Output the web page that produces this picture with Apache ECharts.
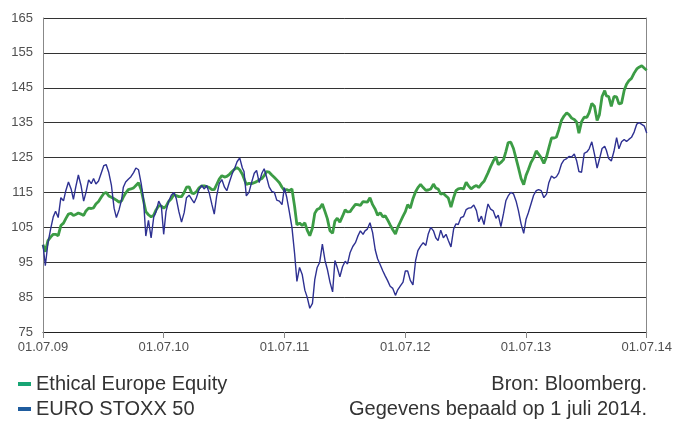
<!DOCTYPE html>
<html>
<head>
	<meta charset="UTF-8">
	<title>Ethical Europe Equity vs EURO STOXX 50</title>
	<style type="text/css">
		html, body {
			margin: 0;
			padding: 0;
			background: #fff;
		}
		#chart {
			width: 675px;
			height: 421px;
		}
	</style>
</head>
<body>
	<div id="chart"></div>

	<script type="text/javascript" src="https://cdn.jsdelivr.net/npm/echarts@6/dist/echarts.min.js"></script>
	<script type="text/javascript">
		// readings about four times a month, 01.07.09 - 01.07.14
		var dates = [
			'2009-07-01','2009-07-08','2009-07-16','2009-07-24','2009-08-01','2009-08-08','2009-08-16','2009-08-24','2009-09-01','2009-09-08','2009-09-16','2009-09-24',
			'2009-10-01','2009-10-08','2009-10-16','2009-10-24','2009-11-01','2009-11-08','2009-11-16','2009-11-24','2009-12-01','2009-12-08','2009-12-16','2009-12-24',
			'2010-01-01','2010-01-08','2010-01-16','2010-01-24','2010-02-01','2010-02-08','2010-02-16','2010-02-24','2010-03-01','2010-03-08','2010-03-16','2010-03-24',
			'2010-04-01','2010-04-08','2010-04-16','2010-04-24','2010-05-01','2010-05-08','2010-05-16','2010-05-24','2010-06-01','2010-06-08','2010-06-16','2010-06-24',
			'2010-07-01','2010-07-08','2010-07-16','2010-07-24','2010-08-01','2010-08-08','2010-08-16','2010-08-24','2010-09-01','2010-09-08','2010-09-16','2010-09-24',
			'2010-10-01','2010-10-08','2010-10-16','2010-10-24','2010-11-01','2010-11-08','2010-11-16','2010-11-24','2010-12-01','2010-12-08','2010-12-16','2010-12-24',
			'2011-01-01','2011-01-08','2011-01-16','2011-01-24','2011-02-01','2011-02-08','2011-02-16','2011-02-24','2011-03-01','2011-03-08','2011-03-16','2011-03-24',
			'2011-04-01','2011-04-08','2011-04-16','2011-04-24','2011-05-01','2011-05-08','2011-05-16','2011-05-24','2011-06-01','2011-06-08','2011-06-16','2011-06-24',
			'2011-07-01','2011-07-08','2011-07-16','2011-07-24','2011-08-01','2011-08-08','2011-08-16','2011-08-24','2011-09-01','2011-09-08','2011-09-16','2011-09-24',
			'2011-10-01','2011-10-08','2011-10-16','2011-10-24','2011-11-01','2011-11-08','2011-11-16','2011-11-24','2011-12-01','2011-12-08','2011-12-16','2011-12-24',
			'2012-01-01','2012-01-08','2012-01-16','2012-01-24','2012-02-01','2012-02-08','2012-02-16','2012-02-24','2012-03-01','2012-03-08','2012-03-16','2012-03-24',
			'2012-04-01','2012-04-08','2012-04-16','2012-04-24','2012-05-01','2012-05-08','2012-05-16','2012-05-24','2012-06-01','2012-06-08','2012-06-16','2012-06-24',
			'2012-07-01','2012-07-08','2012-07-16','2012-07-24','2012-08-01','2012-08-08','2012-08-16','2012-08-24','2012-09-01','2012-09-08','2012-09-16','2012-09-24',
			'2012-10-01','2012-10-08','2012-10-16','2012-10-24','2012-11-01','2012-11-08','2012-11-16','2012-11-24','2012-12-01','2012-12-08','2012-12-16','2012-12-24',
			'2013-01-01','2013-01-08','2013-01-16','2013-01-24','2013-02-01','2013-02-08','2013-02-16','2013-02-24','2013-03-01','2013-03-08','2013-03-16','2013-03-24',
			'2013-04-01','2013-04-08','2013-04-16','2013-04-24','2013-05-01','2013-05-08','2013-05-16','2013-05-24','2013-06-01','2013-06-08','2013-06-16','2013-06-24',
			'2013-07-01','2013-07-08','2013-07-16','2013-07-24','2013-08-01','2013-08-08','2013-08-16','2013-08-24','2013-09-01','2013-09-08','2013-09-16','2013-09-24',
			'2013-10-01','2013-10-08','2013-10-16','2013-10-24','2013-11-01','2013-11-08','2013-11-16','2013-11-24','2013-12-01','2013-12-08','2013-12-16','2013-12-24',
			'2014-01-01','2014-01-08','2014-01-16','2014-01-24','2014-02-01','2014-02-08','2014-02-16','2014-02-24','2014-03-01','2014-03-08','2014-03-16','2014-03-24',
			'2014-04-01','2014-04-08','2014-04-16','2014-04-24','2014-05-01','2014-05-08','2014-05-16','2014-05-24','2014-06-01','2014-06-08','2014-06-16','2014-06-24',
			'2014-07-01'
		];

		var ethical = [
			100, 98, 101.2, 102.2, 103, 103, 102.6, 105.5, 106.2, 107.5,
			108.8, 109, 108.4, 108.7, 109.1, 108.8, 108.4, 109.7, 110.5, 110.4,
			110.6, 111.7, 112.4, 113.6, 114.7, 115, 114, 113.6, 113.2, 112.8,
			112.2, 112.6, 113.7, 114.8, 115.8, 116, 116.3, 117, 117.8, 115.8,
			112.6, 109.5, 108.6, 108, 108.5, 110, 111.2, 111.1, 110.5, 111,
			112.4, 113.2, 114.4, 114.1, 113.8, 113.8, 115, 116.5, 116.6, 114.8,
			114.7, 115.2, 116.3, 116.9, 116.9, 116.7, 116.4, 115.8, 115.8, 117.2,
			118.8, 119.8, 119.4, 119.6, 120.2, 121, 121.7, 122.1, 121.5, 120.2,
			119, 117.3, 117.6, 117.5, 117.8, 118.1, 118.6, 119, 119.8, 121,
			120.8, 120, 119.3, 118.6, 117.8, 116.5, 115.6, 115.8, 115.5, 116,
			111, 105.7, 106.2, 105.5, 106.3, 104.2, 102.6, 104.8, 109, 110.1,
			110.5, 111.7, 109.5, 107.5, 104, 103.3, 106.8, 107.6, 106.5, 108.2,
			110, 109.4, 109.5, 110.6, 111.6, 111.5, 111.3, 112.4, 112.1, 112.2,
			113.5, 111.5, 110.2, 108.5, 109.2, 108, 108.3, 107.2, 105.7, 104.3,
			103.1, 105, 106.6, 108.2, 109.5, 111.5, 110.5, 113.2, 115.2, 116.4,
			117.3, 116.4, 115.6, 115.7, 116, 117.4, 116.3, 116, 114.5, 114.7,
			114, 113.4, 110.8, 113.5, 115.5, 116, 116.2, 116, 117.9, 116.9,
			116, 116.6, 117, 116.4, 117.4, 118.2, 118.7, 120.6, 122.4, 124,
			125.2, 123, 123.6, 124.4, 126.7, 129.3, 129.4, 127.6, 124.7, 122.1,
			119, 117.2, 119.9, 121.5, 123.6, 124.9, 126.9, 126, 124.9, 123.3,
			125.2, 127.8, 130.6, 130.6, 130.9, 132.9, 135.6, 136.9, 137.8, 137.3,
			136.3, 135.9, 135.2, 132, 135.3, 136.6, 136.5, 137.9, 140.5, 139.7,
			135.6, 137.3, 142.5, 144.2, 142.7, 142.5, 139.7, 142.5, 142.4, 140.4,
			140.6, 144.3, 146, 147, 147.7, 149.2, 150.4, 150.9, 151.3, 150.6,
			150
		];

		var stoxx = [
			100, 94, 100.5, 104.5, 108, 109.6, 107.8, 113.5, 112.6, 115.5,
			118, 116, 113, 116.5, 120, 117, 112.5, 115, 118.6, 117.5,
			119, 117.4, 118.3, 120.5, 122.7, 123, 120.7, 117, 110.5, 107.8,
			110, 113, 116.5, 118, 118.8, 119.5, 120.7, 122, 121.5, 117.5,
			113, 102.5, 107, 102, 108, 109.5, 112.5, 111, 103, 109.5,
			112.5, 114.2, 115, 113.3, 109.5, 106.5, 109.2, 113.5, 114.2, 113,
			112, 113.5, 115.8, 117, 116, 117, 114.8, 111.5, 108.8, 113.8,
			117.5, 118.7, 116.5, 115.5, 118, 120.3, 122, 123.8, 124.9, 122,
			121, 114, 115, 117.9, 120.5, 121.3, 117.8, 120.5, 121.8, 119.5,
			116.6, 115.3, 115, 112.8, 112.5, 111.5, 116.4, 113.7, 109.5, 105,
			97.5, 89.5, 93.5, 91.5, 87, 85, 81.8, 83.2, 90, 93.4,
			95, 100.2, 95.5, 93, 89.3, 86.5, 95.5, 93.5, 90.8, 93.7,
			95.3, 94.5, 97.8, 99.5, 100.6, 102.4, 104, 103, 104, 104.5,
			106.3, 103.5, 98.5, 96, 94.3, 92.5, 91.1, 89.8, 88.1, 87.5,
			85.5, 87.1, 88.2, 89.3, 92.5, 92.5, 89.8, 88.5, 95.5, 98.3,
			99.6, 100.6, 99.8, 103, 105, 104, 102, 101.2, 104.2, 102,
			103, 101.2, 99.4, 104.5, 106, 105.8, 107.8, 108.1, 110.1, 110.5,
			110.6, 111.4, 109.8, 106.6, 108.2, 105.8, 108.6, 111.7, 110.2, 109.7,
			107.6, 108.5, 105.2, 109, 112.6, 114, 115, 114.6, 112.5, 109.8,
			106, 103.3, 107.3, 109.2, 111.7, 114.2, 115.5, 115.8, 115.5, 113.5,
			114.5, 117.8, 119.7, 119.1, 119.5, 120.6, 123.1, 124.3, 124.7, 125.3,
			125.2, 126, 124.1, 121, 120.8, 126.2, 126.6, 127.5, 129.5, 126,
			122, 124.5, 127.6, 128.2, 127.1, 124.7, 124, 126.8, 130.7, 127.5,
			129.5, 130.2, 129.6, 130.2, 130.8, 132.3, 134.6, 135, 134.5, 134,
			132
		];

		var xLabels = ['01.07.09', '01.07.10', '01.07.11', '01.07.12', '01.07.13', '01.07.14'];
		var names = ['Ethical Europe Equity', 'EURO STOXX 50'];

		var font = '"Liberation Sans", Arial, sans-serif';
		var t0 = Date.parse(dates[0]);
		var t1 = Date.parse(dates[dates.length - 1]);

		// years since 01.07.09
		function toPairs(values) {
			return values.map(function (v, i) {
				return [5 * (Date.parse(dates[i]) - t0) / (t1 - t0), v];
			});
		}

		var chart = echarts.init(document.getElementById('chart'));

		var option = {
			animation: false,
			backgroundColor: '#fff',
			grid: {
				left: 43,
				right: 25,
				top: 18,
				bottom: 89
			},
			xAxis: {
				type: 'value',
				min: 0,
				max: 5,
				interval: 1,
				axisLine: { show: true, lineStyle: { color: '#222', width: 1 } },
				axisTick: { show: true, length: 6, lineStyle: { color: '#888' } },
				splitLine: { show: false },
				axisLabel: {
					margin: 9,
					color: '#505050',
					fontFamily: font,
					fontSize: 13,
					formatter: function (v) { return xLabels[Math.round(v)]; }
				}
			},
			yAxis: [{
				type: 'value',
				min: 75,
				max: 165,
				interval: 10,
				axisLine: { show: true, lineStyle: { color: '#888', width: 1 } },
				axisTick: { show: false },
				splitLine: { show: true, lineStyle: { color: '#333', width: 1 } },
				axisLabel: {
					margin: 10,
					color: '#505050',
					fontFamily: font,
					fontSize: 13
				}
			}, {
				type: 'value',
				position: 'right',
				min: 75,
				max: 165,
				interval: 10,
				axisLine: { show: true, lineStyle: { color: '#888', width: 1 } },
				axisTick: { show: false },
				axisLabel: { show: false },
				splitLine: { show: false }
			}],
			legend: {
				orient: 'vertical',
				left: 18,
				top: 374,
				padding: 0,
				itemGap: 5,
				itemWidth: 13,
				itemHeight: 4,
				icon: 'rect',
				textStyle: {
					fontFamily: font,
					fontSize: 20,
					lineHeight: 20,
					color: '#333'
				},
				data: [
					{ name: names[0], itemStyle: { color: '#17a574' } },
					{ name: names[1], itemStyle: { color: '#1f5c9e' } }
				]
			},
			graphic: [{
				type: 'text',
				right: 28,
				top: 374,
				style: {
					text: 'Bron: Bloomberg.',
					font: '20px ' + font,
					fill: '#333'
				}
			}, {
				type: 'text',
				right: 28,
				top: 399,
				style: {
					text: 'Gegevens bepaald op 1 juli 2014.',
					font: '20px ' + font,
					fill: '#333'
				}
			}],
			series: [{
				name: names[0],
				type: 'line',
				showSymbol: false,
				data: toPairs(ethical),
				lineStyle: { color: '#3c9c45', width: 2.8 },
				itemStyle: { color: '#3c9c45' }
			}, {
				name: names[1],
				type: 'line',
				showSymbol: false,
				data: toPairs(stoxx),
				lineStyle: { color: '#2e3192', width: 1.4 },
				itemStyle: { color: '#2e3192' }
			}]
		};

		chart.setOption(option);
	</script>
</body>
</html>
